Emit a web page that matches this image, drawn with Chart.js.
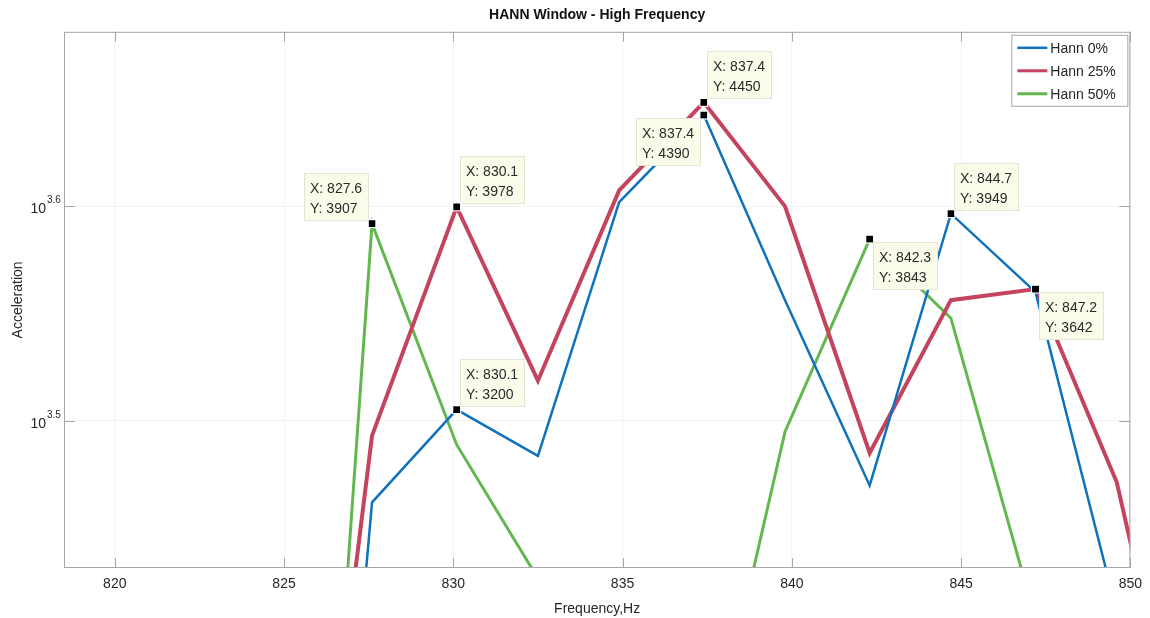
<!DOCTYPE html>
<html>
<head>
<meta charset="utf-8">
<script src="https://cdn.jsdelivr.net/npm/chart.js@4.4.0/dist/chart.umd.min.js"></script>
<style>
  html, body { margin: 0; padding: 0; background: #fff; }
  #wrap { width: 1150px; height: 618px; }
</style>
</head>
<body>
<div id="wrap"><canvas id="hannChart" width="1150" height="618"></canvas></div>
<script>
// Data (Hz / acceleration)
const freqs  = [825.2, 827.6, 830.1, 832.5, 834.9, 837.4, 839.8, 842.3, 844.7, 847.2, 849.6, 852.0];
const hann0  = [1080, 2897, 3200, 3045, 3998, 4390, 3599, 2950, 3949, 3630, 2577, 2200];
const hann25 = [1540, 3112, 3978, 3301, 4049, 4450, 3980, 3055, 3599, 3642, 2960, 2020];
const hann50 = [1130, 3907, 3082, 2670, 2300, 2137, 3125, 3843, 3530, 2555, 2300, 2200];
const seriesNames = ["Hann 0%", "Hann 25%", "Hann 50%"];
const xTicks = [820, 825, 830, 835, 840, 845, 850];
const yTickExps = [3.5, 3.6];

// data tips: which series, which point, where the box sits
const tipSeries = [2, 1, 0, 1, 0, 0, 2, 1];
const tipIndex  = [1, 2, 2, 5, 5, 8, 7, 9];
const tipSide   = ["tl", "tr", "tr", "tr", "bl", "tr", "br", "br"];

const axisGray = "#a6a6a6";
const textGray = "#262626";
const fontFam = "'Liberation Sans', Arial, Helvetica, sans-serif";
Chart.defaults.font.family = fontFam;
Chart.defaults.color = textGray;

function toPoints(vals) {
  return freqs.map((f, i) => ({ x: f, y: vals[i] }));
}

// Frame, inside ticks, 10^x labels, data tips and legend
const matlabLook = {
  id: "matlabLook",
  afterDatasetsDraw(chart) {
    const { ctx, chartArea: a, scales: { x, y } } = chart;
    ctx.save();

    ctx.strokeStyle = axisGray;
    ctx.lineWidth = 1;
    ctx.strokeRect(a.left + 0.5, a.top + 0.5, a.right - a.left - 1, a.bottom - a.top - 1);
    ctx.beginPath();
    xTicks.forEach(v => {
      const px = Math.round(x.getPixelForValue(v)) + 0.5;
      ctx.moveTo(px, a.top); ctx.lineTo(px, a.top + 10);
      ctx.moveTo(px, a.bottom); ctx.lineTo(px, a.bottom - 10);
    });
    yTickExps.forEach(e => {
      const py = Math.round(y.getPixelForValue(Math.pow(10, e))) + 0.5;
      ctx.moveTo(a.left, py); ctx.lineTo(a.left + 11, py);
      ctx.moveTo(a.right, py); ctx.lineTo(a.right - 11, py);
    });
    ctx.stroke();

    // y tick labels as 10 with superscript exponent
    ctx.fillStyle = textGray;
    ctx.textBaseline = "alphabetic";
    yTickExps.forEach(e => {
      const py = y.getPixelForValue(Math.pow(10, e));
      ctx.font = "14px " + fontFam;
      ctx.textAlign = "right";
      ctx.fillText("10", a.left - 18, py + 7);
      ctx.font = "10px " + fontFam;
      ctx.textAlign = "left";
      ctx.fillText(e.toFixed(1), a.left - 17, py - 3);
    });

    // data tips
    const seriesVals = [hann0, hann25, hann50];
    tipSeries.forEach((s, k) => {
      const i = tipIndex[k];
      const px = x.getPixelForValue(freqs[i]);
      const py = y.getPixelForValue(seriesVals[s][i]);
      const w = 65, h = 48, gap = 3;
      const side = tipSide[k];
      const bx = Math.round(side[1] === "r" ? px + gap : px - gap - w);
      const by = Math.round(side[0] === "t" ? py - gap - h : py + gap);
      ctx.fillStyle = "#fbfbea";
      ctx.fillRect(bx, by, w, h);
      ctx.strokeStyle = "#e4e4d2";
      ctx.lineWidth = 1;
      ctx.strokeRect(bx + 0.5, by + 0.5, w - 1, h - 1);
      ctx.fillStyle = "#2a2a2a";
      ctx.font = "14px " + fontFam;
      ctx.textAlign = "left";
      ctx.textBaseline = "middle";
      ctx.fillText("X: " + freqs[i].toFixed(1), bx + 6, by + 16);
      ctx.fillText("Y: " + seriesVals[s][i], bx + 6, by + 36);
      ctx.fillStyle = "#000";
      ctx.fillRect(px - 3.5, py - 3.5, 7, 7);
      ctx.strokeStyle = "#fff";
      ctx.strokeRect(px - 4, py - 4, 8, 8);
    });

    // legend box in the top right corner
    const lw = 116, lh = 71;
    const lx = a.right - lw - 3, ly = a.top + 3;
    ctx.fillStyle = "#fff";
    ctx.fillRect(lx, ly, lw, lh);
    ctx.strokeStyle = axisGray;
    ctx.lineWidth = 1;
    ctx.strokeRect(lx + 0.5, ly + 0.5, lw, lh);
    chart.data.datasets.forEach((ds, i) => {
      const ry = ly + 13 + i * 23;
      ctx.strokeStyle = ds.borderColor;
      ctx.lineWidth = Math.min(ds.borderWidth, 3);
      ctx.beginPath();
      ctx.moveTo(lx + 6, ry); ctx.lineTo(lx + 36, ry);
      ctx.stroke();
      ctx.fillStyle = textGray;
      ctx.font = "14px " + fontFam;
      ctx.textBaseline = "middle";
      ctx.fillText(ds.label, lx + 39, ry + 1);
    });
    ctx.restore();
  }
};

new Chart(document.getElementById("hannChart"), {
  type: "line",
  data: {
    datasets: [
      { label: seriesNames[0], data: toPoints(hann0), borderColor: "#0f72bd", borderWidth: 2.5 },
      { label: seriesNames[1], data: toPoints(hann25), borderColor: "#c4445f", borderWidth: 4 },
      { label: seriesNames[2], data: toPoints(hann50), borderColor: "#62b84f", borderWidth: 3 }
    ]
  },
  options: {
    responsive: false,
    animation: false,
    layout: { padding: { right: 18 } },
    elements: { point: { radius: 0 }, line: { tension: 0 } },
    plugins: {
      legend: { display: false },
      tooltip: { enabled: false },
      title: {
        display: true, fullSize: false,
        text: "HANN Window - High Frequency",
        color: "#111", font: { size: 14, weight: "bold" },
        padding: { top: 7, bottom: 8 }
      }
    },
    scales: {
      x: {
        type: "linear", min: 818.5, max: 850, bounds: "data",
        afterBuildTicks: s => { s.ticks = xTicks.map(v => ({ value: v })); },
        afterFit: s => { s.height = 50; },
        grid: { color: "#f3f3f3", drawTicks: false },
        border: { display: false },
        ticks: { color: textGray, font: { size: 14 }, padding: 8, maxRotation: 0, autoSkip: false },
        title: { display: true, text: "Frequency,Hz", color: textGray, font: { size: 14 }, padding: { top: 4, bottom: 0 } }
      },
      y: {
        type: "logarithmic", min: 2700, max: 4800, bounds: "data",
        afterBuildTicks: s => { s.ticks = yTickExps.map(e => ({ value: Math.pow(10, e) })); },
        afterFit: s => { s.width = 64; },
        grid: { color: "#f3f3f3", drawTicks: false },
        border: { display: false },
        ticks: { display: false },
        title: { display: true, text: "Acceleration", color: textGray, font: { size: 14 }, padding: { top: 10, bottom: 0 } }
      }
    }
  },
  plugins: [matlabLook]
});
</script>
</body>
</html>
